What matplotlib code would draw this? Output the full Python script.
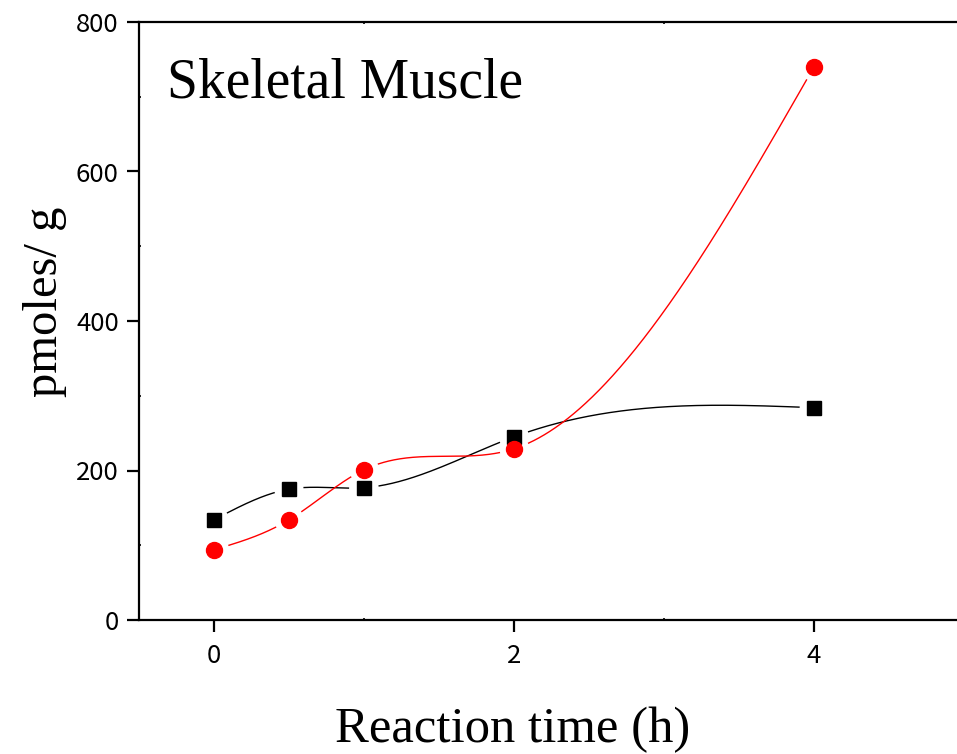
import numpy as np
import matplotlib
matplotlib.use("Agg")
import matplotlib.pyplot as plt

# reaction time (h) and amounts (pmoles/g)
TIME    = [0, 0.5, 1, 2, 4]
BLACK_Y = [134, 175, 177, 245, 284]
RED_Y   = [94, 134, 201, 229, 740]

X_TICKS = [0, 2, 4]
Y_TICKS = [0, 200, 400, 600, 800]


def natural_spline(x, y, xs):
    x = np.asarray(x, float)
    y = np.asarray(y, float)
    n = len(x)
    h = np.diff(x)
    A = np.zeros((n, n))
    b = np.zeros(n)
    A[0, 0] = A[-1, -1] = 1.0
    for i in range(1, n - 1):
        A[i, i - 1] = h[i - 1]
        A[i, i] = 2 * (h[i - 1] + h[i])
        A[i, i + 1] = h[i]
        b[i] = 3 * ((y[i + 1] - y[i]) / h[i] - (y[i] - y[i - 1]) / h[i - 1])
    c = np.linalg.solve(A, b)
    bb = np.diff(y) / h - h * (2 * c[:-1] + c[1:]) / 3
    d = np.diff(c) / (3 * h)
    idx = np.clip(np.searchsorted(x, xs) - 1, 0, n - 2)
    dx = xs - x[idx]
    return y[idx] + bb[idx] * dx + c[idx] * dx ** 2 + d[idx] * dx ** 3


fig = plt.figure(figsize=(9.57, 7.54), dpi=100)
# right end of the axis (x = 5) falls just outside the picture
ax = fig.add_axes([139 / 957, 134 / 754, 825 / 957, 598 / 754])
ax.set_xlim(-0.5, 5)
ax.set_ylim(0, 800)


def draw_series(xd, yd, color, marker, ms, gap_px):
    xs = np.linspace(xd[0], xd[-1], 800)
    ys = natural_spline(xd, yd, xs)
    # leave a small gap in the curve around each marker
    pts = ax.transData.transform(np.column_stack([xs, ys]))
    dpts = ax.transData.transform(np.column_stack([xd, yd]))
    dist = np.min(np.hypot(pts[:, None, 0] - dpts[None, :, 0],
                           pts[:, None, 1] - dpts[None, :, 1]), axis=1)
    ys = np.where(dist < gap_px, np.nan, ys)
    ax.plot(xs, ys, color=color, lw=1.0, zorder=2)
    ax.plot(xd, yd, ls="none", marker=marker, color=color, ms=ms, zorder=3)


draw_series(TIME, BLACK_Y, "black", "s", 9.5, 15)
draw_series(TIME, RED_Y, "#ff0000", "o", 11.5, 15)

for side in ["left", "bottom", "top", "right"]:
    ax.spines[side].set_linewidth(1.6)

ax.set_xticks(X_TICKS)
ax.set_yticks(Y_TICKS)
ax.set_xticks([1, 3, 5], minor=True)
ax.set_yticks([100, 300, 500, 700], minor=True)
ax.tick_params(which="major", direction="out", length=8.5, width=1.6,
               labelsize=18.5)
ax.tick_params(axis="x", which="major", pad=8)
ax.tick_params(axis="y", which="major", pad=6)
ax.tick_params(which="minor", direction="in", length=1.5, width=1.2)
ax.tick_params(which="both", top=True, right=True)
ax.tick_params(axis="x", which="major", top=False)
ax.tick_params(axis="y", which="major", right=False)
for lab in ax.get_xticklabels() + ax.get_yticklabels():
    lab.set_family(["Noto Sans CJK JP", "DejaVu Sans"])

fig.text(335 / 957, (754 - 742) / 754, "Reaction time (h)",
         family="Liberation Serif", fontsize=36.5, ha="left", va="baseline")
fig.text(23 / 957, (754 - 397) / 754, "pmoles/ g", rotation=90,
         family="Liberation Serif", fontsize=35, ha="left", va="bottom")
ax.text((167 - 139) / 825, (620 - 97) / 598, "Skeletal Muscle",
        transform=ax.transAxes, family="Liberation Serif", fontsize=40,
        ha="left", va="baseline")

fig.savefig("out.png", dpi=100)
